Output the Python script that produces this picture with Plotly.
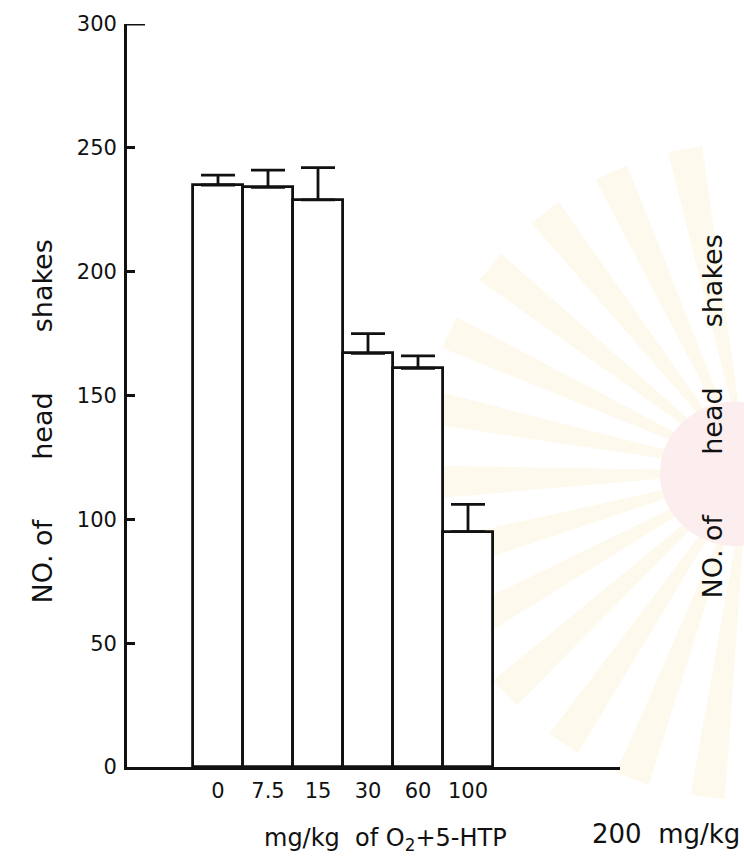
import math
import plotly.graph_objects as go

# Dose groups (mg/kg) and mean head-shake counts with their errors
doses = ["0", "7.5", "15", "30", "60", "100"]
head_shakes = [235, 234, 229, 167, 161, 95]
errors = [4, 7, 13, 8, 5, 11]
y_ticks = [0, 50, 100, 150, 200, 250, 300]

FONT = "DejaVu Sans"
INK = "#111111"

W, H = 744, 860
L, R, T, B = 127, 124, 21, 93
PW, PH = W - L - R, H - T - B


def px_to_paper(px, py):
    return (px - L) / PW, (H - B - py) / PH


fig = go.Figure()
fig.add_trace(go.Bar(
    x=doses,
    y=head_shakes,
    width=1.0,
    marker=dict(color="white", line=dict(color=INK, width=2.8)),
    error_y=dict(type="data", array=errors, symmetric=False, arrayminus=[0] * len(errors),
                 color=INK, thickness=2.8, width=17),
    showlegend=False,
))

# faint sunburst emblem in the background on the right
shapes = []
cx, cy, rad = 748, 470, 330
for k in range(13):
    a0 = math.radians(98 + k * 13.5)
    a1 = a0 + math.radians(6.0)
    pts = [(cx, cy),
           (cx + rad * math.cos(a0), cy - rad * math.sin(a0)),
           (cx + rad * math.cos(a1), cy - rad * math.sin(a1))]
    pp = [px_to_paper(x, y) for x, y in pts]
    path = "M {} {} L {} {} L {} {} Z".format(*[v for p in pp for v in p])
    shapes.append(dict(type="path", xref="paper", yref="paper", path=path,
                       fillcolor="#fdf9ec", line=dict(width=0), layer="below"))
# pale red disc of the emblem
x0, y0 = px_to_paper(660, 545)
x1, y1 = px_to_paper(810, 400)
shapes.append(dict(type="circle", xref="paper", yref="paper", x0=x0, y0=y0, x1=x1, y1=y1,
                   fillcolor="#fcedef", line=dict(width=0), layer="below"))
# longer top tick on the y axis
shapes.append(dict(type="line", xref="paper", yref="y", x0=0, x1=18 / PW,
                   y0=y_ticks[-1], y1=y_ticks[-1], line=dict(color=INK, width=3)))

fig.update_layout(
    width=W, height=H,
    margin=dict(l=L, r=R, t=T, b=B),
    paper_bgcolor="white", plot_bgcolor="rgba(0,0,0,0)",
    bargap=0,
    font=dict(family=FONT, color=INK, size=20),
    shapes=shapes,
    xaxis=dict(
        type="category", range=[-1.82, 8.04],
        showline=True, linecolor=INK, linewidth=3,
        ticks="", showgrid=False, zeroline=False,
        tickfont=dict(size=21), ticklabelstandoff=3,
    ),
    yaxis=dict(
        range=[0, 300], tickvals=y_ticks,
        showline=True, linecolor=INK, linewidth=2.8,
        ticks="inside", ticklen=8, tickwidth=2.8, tickcolor=INK,
        showgrid=False, zeroline=False,
        tickfont=dict(size=21), ticklabelstandoff=3,
    ),
)

gap = "\u00a0" * 7
title_y = f"NO. of{gap}head{gap}shakes"
lx, ly = px_to_paper(42, 420)
rx, ry = px_to_paper(712, 415)
for xx, yy in ((lx, ly), (rx, ry)):
    fig.add_annotation(
        text=title_y, textangle=-90, xref="paper", yref="paper", x=xx, y=yy,
        xanchor="center", yanchor="middle",
        showarrow=False, font=dict(size=27, family=FONT, color=INK),
    )

ax, ay = px_to_paper(262, 840)
fig.add_annotation(
    text="mg/kg\u00a0\u00a0of O<sub>2</sub>+5-HTP",
    xref="paper", yref="paper", x=ax, y=ay, xanchor="left", yanchor="middle",
    showarrow=False, font=dict(size=24, family=FONT, color=INK),
)
bx, by = px_to_paper(742, 834)
fig.add_annotation(
    text="200\u00a0\u00a0mg/kg",
    xref="paper", yref="paper", x=bx, y=by, xanchor="right", yanchor="middle",
    showarrow=False, font=dict(size=26, family=FONT, color=INK),
)

fig.write_html("out.html")
